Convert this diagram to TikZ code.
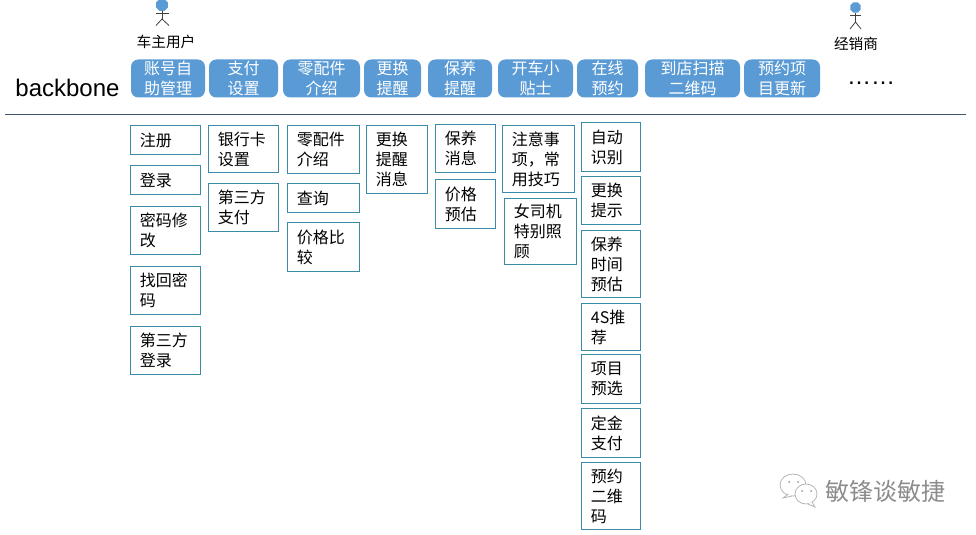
\documentclass[tikz,border=0pt]{standalone}
\usepackage{fontspec}
\setmainfont{Noto Sans CJK SC}
\newfontfamily\latinf{Liberation Sans}
\usetikzlibrary{shapes.geometric}
\definecolor{topfill}{HTML}{5B9BD5}
\definecolor{subline}{HTML}{3A8CA6}
\definecolor{rulec}{HTML}{3F5468}
\definecolor{actorl}{HTML}{404040}
\tikzset{
  topbox/.style={draw=none,fill=topfill,rounded corners=5.5pt,text=white,align=center,inner sep=0pt,font=\fontsize{12}{15}\selectfont},
  subbox/.style={draw=subline,line width=0.9pt,fill=white,text=black,align=left,inner xsep=7pt,inner ysep=0pt,font=\fontsize{12}{15}\selectfont},
  actorhead/.style={regular polygon,regular polygon sides=8,fill=topfill,draw=none,inner sep=0pt},
  actorline/.style={draw=actorl,line width=0.6pt},
  caption/.style={inner sep=0pt,font=\fontsize{11}{13}\selectfont},
  markw/.style={inner sep=0pt,text=gray!90,font=\fontsize{18}{20}\selectfont},
  wechat/.style={draw=gray!65,line width=0.5pt,fill=white}
}
\newcommand{\topb}[6]{\node[topbox,minimum width={(#3-#2)*0.75pt},minimum height={(#5-#4)*0.75pt}] (#1) at ({(#2+#3)/2},{(#4+#5)/2}) {#6};}
\newcommand{\subb}[6]{\node[subbox,anchor=center,text width={(#3-#2-1.2)*0.75pt-14pt},minimum height={(#5-#4-1.2)*0.75pt}] (#1) at ({(#2+#3)/2},{(#4+#5)/2}) {#6};}
\begin{document}
\begin{tikzpicture}[x=0.75pt,y=-0.75pt]
\useasboundingbox (0,0) rectangle (976,535);
\fill[white] (0,0) rectangle (976,535);
% actors
\node[actorhead,minimum size=9.5pt] (h1) at (162,5) {};
\coordinate (n1) at (162,19);
\coordinate (a1l) at (156,13.5); \coordinate (a1r) at (169,13.5);
\coordinate (l1l) at (156,25.5); \coordinate (l1r) at (169,25.5);
\draw[actorline] (h1) -- (n1); \draw[actorline] (a1l) -- (a1r);
\draw[actorline] (l1l) -- (n1) -- (l1r);
\node[caption] (c1) at (166,42) {车主用户};
\node[actorhead,minimum size=8.5pt] (h2) at (855.5,7.5) {};
\coordinate (n2) at (855.5,22);
\coordinate (a2l) at (850,15); \coordinate (a2r) at (861,15);
\coordinate (l2l) at (850,29); \coordinate (l2r) at (861,29);
\draw[actorline] (h2) -- (n2); \draw[actorline] (a2l) -- (a2r);
\draw[actorline] (l2l) -- (n2) -- (l2r);
\node[caption] (c2) at (856,44) {经销商};
% backbone
\node[inner sep=0pt,font=\latinf\fontsize{18}{20}\selectfont] (bb) at (67.5,88) {backbone};
\topb{t1}{131}{205}{59.5}{97.5}{账号自\\助管理}
\topb{t2}{209}{278}{59.5}{97.5}{支付\\设置}
\topb{t3}{283}{360}{59.5}{97.5}{零配件\\介绍}
\topb{t4}{364}{421}{59.5}{97.5}{更换\\提醒}
\topb{t5}{428}{492}{59.5}{97.5}{保养\\提醒}
\topb{t6}{498}{573}{59.5}{97.5}{开车小\\贴士}
\topb{t7}{577}{638}{59.5}{97.5}{在线\\预约}
\topb{t8}{645}{740}{59.5}{97.5}{到店扫描\\二维码}
\topb{t9}{744}{820}{59.5}{97.5}{预约项\\目更新}
\node[inner sep=0pt,font=\latinf\fontsize{18}{20}\selectfont] (more) at (871,83.5) {……};
\coordinate (r1) at (5,115); \coordinate (r2) at (966,115);
\draw[rulec,line width=0.75pt] (r1) -- (r2);
% column 1
\subb{a1}{130}{201}{125}{155}{注册}
\subb{a2}{130}{201}{165}{195}{登录}
\subb{a3}{130}{201}{206}{255}{密码修\\改}
\subb{a4}{130}{201}{266}{315}{找回密\\码}
\subb{a5}{130}{201}{326}{375}{第三方\\登录}
% column 2
\subb{b1}{208}{279}{125}{173}{银行卡\\设置}
\subb{b2}{208}{279}{183}{232}{第三方\\支付}
% column 3
\subb{d1}{287}{360}{125}{174}{零配件\\介绍}
\subb{d2}{287}{360}{183}{213}{查询}
\subb{d3}{287}{360}{222}{272}{价格比\\较}
% column 4
\subb{e1}{366}{428}{125}{194}{更换\\提醒\\消息}
% column 5
\subb{f1}{435}{496}{124}{173}{保养\\消息}
\subb{f2}{435}{496}{179}{229}{价格\\预估}
% column 6
\subb{g1}{502}{575}{125}{193}{注意事\\项，常\\用技巧}
\subb{g2}{504}{577}{198}{265}{女司机\\特别照\\顾}
% column 7
\subb{k1}{581}{641}{122}{172}{自动\\识别}
\subb{k2}{581}{641}{176}{225}{更换\\提示}
\subb{k3}{581}{641}{230}{298}{保养\\时间\\预估}
\subb{k4}{581}{641}{303}{351}{4S推\\荐}
\subb{k5}{581}{641}{354}{404}{项目\\预选}
\subb{k6}{581}{641}{408}{458}{定金\\支付}
\subb{k7}{581}{641}{462}{530}{预约\\二维\\码}
% watermark
\draw[wechat] (793,485) ellipse (13 and 11);
\draw[wechat] (788.5,494) -- (783,498) -- (792,496);
\draw[wechat] (806,494) ellipse (11 and 10);
\draw[wechat] (812,502) -- (815,507) -- (808,504);
\fill[gray!80] (789,482) circle (1) (798,482) circle (1) (802,491) circle (1) (811,491) circle (1);
\node[markw] (wm) at (885.5,491) {敏锋谈敏捷};
\end{tikzpicture}
\end{document}
